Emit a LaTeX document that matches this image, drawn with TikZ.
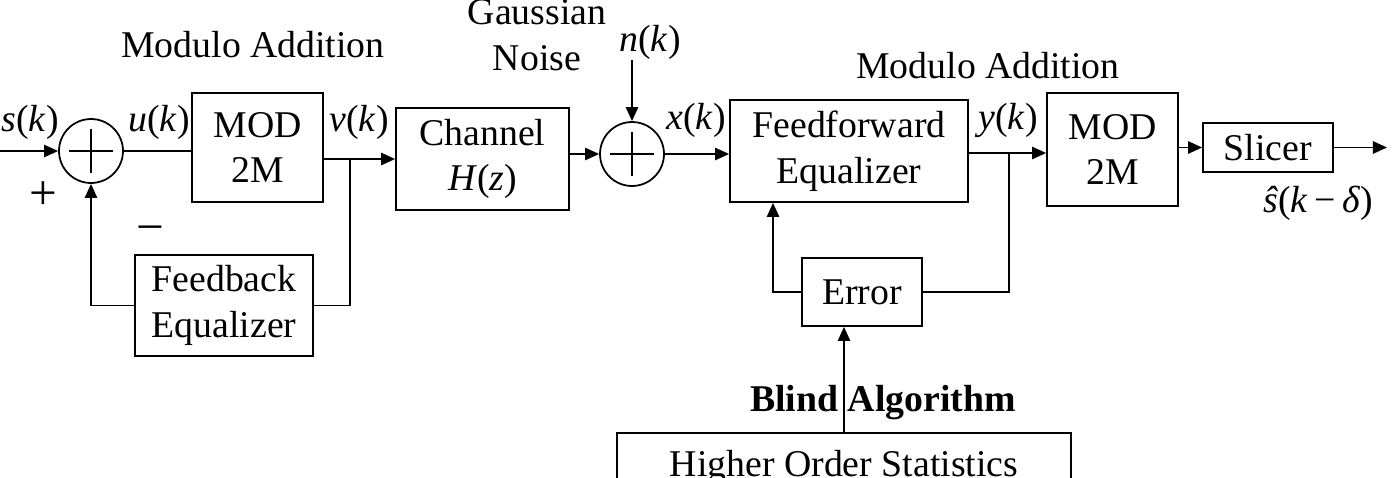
\documentclass[tikz,border=0pt]{standalone}
\usepackage{fontspec}
\setmainfont{Liberation Serif}
\usetikzlibrary{arrows.meta}

\begin{document}
\begin{tikzpicture}[x=0.02cm,y=-0.02cm,
  font=\fontsize{21.5}{26}\selectfont,
  line width=1pt,
  >={Triangle[length=8pt,width=7pt]},
  blk/.style={draw,align=center,inner sep=0pt},
  summer/.style={draw,circle,minimum size=1.28cm,inner sep=0pt},
  lbl/.style={inner sep=0pt,align=center},
  sgn/.style={inner sep=0pt,font=\fontsize{28}{30}\selectfont}]
\useasboundingbox (0,0) rectangle (1392,477);
\clip (0,0) rectangle (1392,477);

% blocks
\node[blk,minimum width=2.62cm,minimum height=2.18cm] (mod1) at (257.5,147.5) {MOD\\2M};
\node[blk,minimum width=3.46cm,minimum height=2.04cm] (chan) at (482.5,159) {Channel\\\textit{H}(\textit{z})};
\node[blk,minimum width=4.76cm,minimum height=2.04cm] (ff) at (849,151) {Feedforward\\Equalizer};
\node[blk,minimum width=2.62cm,minimum height=2.26cm] (mod2) at (1112.5,149.5) {MOD\\2M};
\node[blk,minimum width=2.6cm,minimum height=0.98cm] (slicer) at (1268,147.5) {Slicer};
\node[blk,minimum width=2.4cm,minimum height=1.36cm] (err) at (862,292) {Error};
\node[blk,minimum width=3.56cm,minimum height=2.02cm] (fb) at (224,305.5) {Feedback\\Equalizer};
\node[blk,minimum width=9.08cm,minimum height=1.36cm] (hos) at (844,467) {Higher Order Statistics};

% summing points
\node[summer] (sum1) at (91,151) {};
\node[summer] (sum2) at (632,154) {};
\foreach \s in {sum1,sum2} {
  \draw ([xshift=-0.44cm]\s.center) -- ([xshift=0.44cm]\s.center);
  \draw ([yshift=-0.44cm]\s.center) -- ([yshift=0.44cm]\s.center);
}

% labels
\node[lbl] (sk) at (30,122) {\textit{s}(\textit{k})};
\node[lbl] (uk) at (159,122) {\textit{u}(\textit{k})};
\node[lbl] (vk) at (359,122) {\textit{v}(\textit{k})};
\node[lbl] (xk) at (696,120) {\textit{x}(\textit{k})};
\node[lbl] (yk) at (1008,120) {\textit{y}(\textit{k})};
\node[lbl] (nk) at (650,42) {\textit{n}(\textit{k})};
\node[lbl] (shat) at (1318,203) {\textit{ŝ}(\textit{k}\,−\,\textit{δ})};
\node[sgn] (plus) at (43,196) {+};
\node[sgn] (minus) at (150,235) {−};
\node[lbl] (gauss) at (537,35) {Gaussian\\Noise};
\node[lbl] (modl) at (253,45) {Modulo Addition};
\node[lbl] (modr) at (988,66) {Modulo Addition};
\node[lbl,font=\fontsize{21.5}{26}\selectfont\bfseries] (blind) at (883,403) {Blind Algorithm};

% connectors
\coordinate (in) at (0,151);
\coordinate (vj) at (350,159);
\coordinate (yj) at (1009,153);
\coordinate (ntop) at (632,60);
\coordinate (out) at (1387,147.5);
\coordinate (ffin) at (773,0);
\coordinate (ba) at (844,0);

\draw[->] (in) -- (sum1.west);
\draw (sum1.east) -- (sum1.east -| mod1.west);
\draw (vj -| mod1.east) -- (vj);
\draw[->] (vj) -- (vj -| chan.west);
\draw[->] (sum2 -| chan.east) -- (sum2.west);
\draw[->] (sum2.east) -- (sum2.east -| ff.west);
\draw[->] (ntop) -- (sum2.north);
\draw (yj -| ff.east) -- (yj);
\draw[->] (yj) -- (yj -| mod2.west);
\draw[->] (slicer -| mod2.east) -- (slicer.west);
\draw[->] (slicer.east) -- (out);

\draw (vj) |- (fb.east);
\draw[->] (fb.west) -| (sum1.south);
\draw (yj) |- (err.east);
\draw[->] (err.west) -| (ffin |- ff.south);
\draw[->] (ba |- hos.north) -- (ba |- err.south);
\end{tikzpicture}
\end{document}
